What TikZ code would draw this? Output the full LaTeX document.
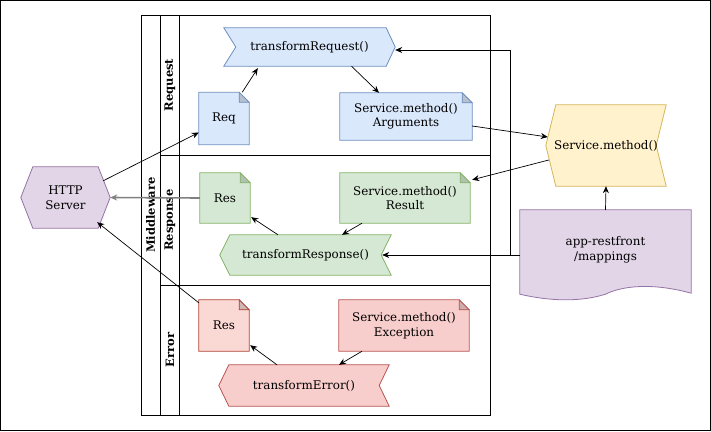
\documentclass[tikz,border=0pt]{standalone}
\usepackage{fontspec}
\setmainfont{DejaVu Serif}
\usetikzlibrary{calc,arrows.meta,backgrounds}
\definecolor{bfill}{HTML}{DAE8FC}\definecolor{bline}{HTML}{6C8EBF}
\definecolor{gfill}{HTML}{D5E8D4}\definecolor{gline}{HTML}{82B366}
\definecolor{rfill}{HTML}{F8CECC}\definecolor{rline}{HTML}{B85450}
\definecolor{rlfill}{HTML}{FAD9D5}\definecolor{rlline}{HTML}{AE4132}
\definecolor{yfill}{HTML}{FFF2CC}\definecolor{yline}{HTML}{D6B656}
\definecolor{pfill}{HTML}{E1D5E7}\definecolor{pline}{HTML}{9673A6}
\definecolor{grayline}{HTML}{808080}
\newcommand\notebg[3]{%
  \draw[draw=#2, fill=#3, line width=0.8pt] (#1.north west) -- ($(#1.north east)+(-10,0)$) -- ($(#1.north east)+(0,10)$) -- (#1.south east) -- (#1.south west) -- cycle;
  \draw[draw=#2, fill=#3!80!black!90, line width=0.8pt] ($(#1.north east)+(-10,0)$) -- ($(#1.north east)+(-10,10)$) -- ($(#1.north east)+(0,10)$) -- cycle;}
\newcommand\steprbg[3]{%
  \draw[draw=#2, fill=#3, line width=0.8pt] (#1.north west) -- ($(#1.north east)+(-9,0)$) -- (#1.east) -- ($(#1.south east)+(-9,0)$) -- (#1.south west) -- ($(#1.west)+(12,0)$) -- cycle;}
\newcommand\steplbg[3]{%
  \draw[draw=#2, fill=#3, line width=0.8pt] (#1.west) -- ($(#1.north west)+(10,0)$) -- (#1.north east) -- ($(#1.east)+(-10,0)$) -- (#1.south east) -- ($(#1.south west)+(10,0)$) -- cycle;}
\begin{document}
\begin{tikzpicture}[x=1pt,y=-1pt,
  lbl/.style={inner sep=0pt, align=center, font=\fontsize{11.9}{14.5}\selectfont},
  lanelbl/.style={inner sep=0pt, rotate=90, font=\bfseries\fontsize{11.5}{14}\selectfont},
  arr/.style={-{Stealth[length=7pt,width=6pt]}, line width=0.7pt},
  pool/.style={line width=0.9pt}]
\useasboundingbox (0,0) rectangle (711,431);
\draw[line width=1pt] (0.5,0.5) rectangle (710.5,430.5);
% pool
\draw[pool] (141,15) rectangle (490,415);
\draw[pool] (160,15) -- (160,415);
\draw[pool] (179,15) -- (179,415);
\draw[pool] (160,155) -- (490,155);
\draw[pool] (160,285) -- (490,285);
\node[lanelbl] (lmid) at (150.5,215) {Middleware};
\node[lanelbl] (lreq) at (170,85) {Request};
\node[lanelbl] (lres) at (170,220) {Response};
\node[lanelbl] (lerr) at (170,350) {Error};
% nodes
\node[lbl, minimum width=171pt, minimum height=38pt] (treq) at (309.5,47) {transformRequest()};
\node[lbl, minimum width=50pt, minimum height=52pt] (req) at (224,118.5) {Req};
\node[lbl, minimum width=132pt, minimum height=47pt] (args) at (406,116.5) {Service.method()\\Arguments};
\node[lbl, minimum width=89pt, minimum height=61pt] (http) at (65.5,197.5) {HTTP\\Server};
\node[lbl, minimum width=50pt, minimum height=50pt] (resG) at (225,198) {Res};
\node[lbl, minimum width=130pt, minimum height=50pt] (result) at (405,198) {Service.method()\\Result};
\node[lbl, minimum width=171pt, minimum height=40pt] (tresp) at (305.5,255) {transformResponse()};
\node[lbl, minimum width=50pt, minimum height=51pt] (resR) at (224,325.5) {Res};
\node[lbl, minimum width=130pt, minimum height=51pt] (exc) at (404,325.5) {Service.method()\\Exception};
\node[lbl, minimum width=170pt, minimum height=41pt] (terr) at (304,385.5) {transformError()};
\node[lbl, minimum width=120pt, minimum height=81pt] (svc) at (606,145.5) {Service.method()};
\node[lbl, minimum width=171pt, minimum height=80pt] (app) at (605.5,250) {app-restfront\\/mappings};
\begin{pgfonlayer}{background}
  \steprbg{treq}{bline}{bfill}
  \notebg{req}{bline}{bfill}
  \notebg{args}{bline}{bfill}
  \draw[draw=pline, fill=pfill, line width=0.8pt] (http.west) -- ($(http.north west)+(12,0)$) -- ($(http.north east)+(-12,0)$) -- (http.east) -- ($(http.south east)+(-12,0)$) -- ($(http.south west)+(12,0)$) -- cycle;
  \notebg{resG}{gline}{gfill}
  \notebg{result}{gline}{gfill}
  \steplbg{tresp}{gline}{gfill}
  \notebg{resR}{rlline}{rlfill}
  \notebg{exc}{rline}{rfill}
  \steplbg{terr}{rline}{rfill}
  \steplbg{svc}{yline}{yfill}
  \draw[draw=pline, fill=pfill, line width=0.8pt] (app.north west) -- (app.north east) -- ($(app.south east)+(0,3)$)
    .. controls ($(app.south east)+(-40,-8)$) and ($(app.south east)+(-70,-4)$) .. ($(app.south)+(0,4)$)
    .. controls ($(app.south west)+(60,12)$) and ($(app.south west)+(30,11)$) .. ($(app.south west)+(0,4)$) -- cycle;
\end{pgfonlayer}
% connectors
\coordinate (bend) at (510,255);
\draw[arr] ($(http.north east)+(-7,14)$) -- ($(req.west)+(0,14)$);
\draw[arr] ($(req.north east)+(-7,0)$) -- ($(treq.south west)+(34,2)$);
\draw[arr] ($(treq.south)+(42,0)$) -- ($(args.north)+(-27,0)$);
\draw[arr] ($(args.east)+(0,9.5)$) -- ($(svc.west)+(2,-8.5)$);
\draw[arr] ($(svc.west)+(3,14.5)$) -- ($(result.north east)+(2,7)$);
\draw[arr] ($(result.south)+(-43,0)$) -- ($(tresp.north)+(36.5,0)$);
\draw[arr] ($(tresp.north)+(-27.5,0)$) -- ($(resG.south east)+(1,-6)$);
\draw[-{Stealth[length=7pt,width=6pt]}, draw=grayline, line width=1.6pt] (resG.west) -- (http.east);
\draw[arr] ($(resR.north west)+(0,3)$) -- ($(http.south east)+(-13,-6)$);
\draw[arr] ($(terr.north)+(-27,0)$) -- ($(resR.south east)+(1,-6)$);
\draw[arr] ($(exc.south)+(-42,0)$) -- ($(terr.north)+(35,0)$);
\draw[arr] (app.north) -- (svc.south);
\draw[arr] ($(app.west)+(0,5)$) -- ($(tresp.east)+(-9,0)$);
\draw[arr] (bend) |- ($(treq.east)+(0,3)$);
\end{tikzpicture}
\end{document}
